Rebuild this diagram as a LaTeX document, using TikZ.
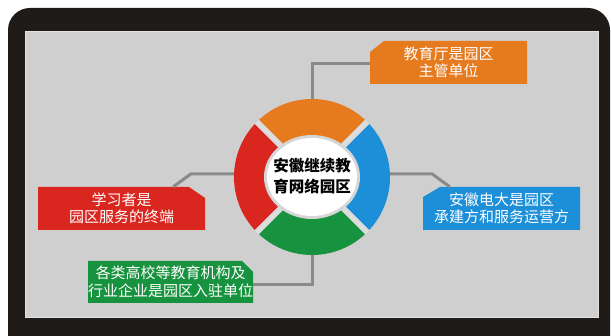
\documentclass[tikz,border=0pt]{standalone}
\usepackage{fontspec}
\setmainfont{Noto Sans CJK SC}
\definecolor{frameblk}{HTML}{1E1B19}
\definecolor{panelgray}{HTML}{CFCFCF}
\definecolor{paneledge}{HTML}{E2E2E2}
\definecolor{conngray}{HTML}{8A8A8A}
\definecolor{gapgray}{HTML}{DCDCDC}
\definecolor{rimgray}{HTML}{D6D6D6}
\definecolor{corange}{HTML}{E67A1E}
\definecolor{cblue}{HTML}{1C8FD8}
\definecolor{cgreen}{HTML}{17923E}
\definecolor{cred}{HTML}{D9261F}
\tikzset{
  conn/.style={draw=conngray, line width=3pt},
  boxtext/.style={rectangle, inner sep=0pt, align=center, text=white,
    font=\fontsize{15}{17.5}\selectfont},
}
\begin{document}
\begin{tikzpicture}[x=1pt,y=-1pt]
\useasboundingbox (0,0) rectangle (611,336);
\clip (0,0) rectangle (611,336);
\fill[white] (0,0) rectangle (611,336);
\fill[frameblk, rounded corners=22pt] (8,8) rectangle (610,380);
\fill[panelgray, draw=paneledge, line width=1pt] (25,32) rectangle (598,318);

% ring placeholder node
\node[circle, minimum size=156pt, inner sep=0pt] (ring) at (312,177) {};

% boxes
\fill[corange] (370,52) -- (384,41) -- (527,41) -- (527,84) -- (370,84) -- cycle;
\fill[cred] (38,187) -- (189,187) -- (205,198) -- (205,230) -- (38,230) -- cycle;
\fill[cblue] (423,197) -- (440,187) -- (580,187) -- (580,230) -- (423,230) -- cycle;
\fill[cgreen] (88,261) -- (242,261) -- (253,272) -- (253,303) -- (88,303) -- cycle;

\node[boxtext, minimum width=157pt, minimum height=43pt] (ob) at (448.5,62.5) {教育厅是园区\\主管单位};
\node[boxtext, minimum width=167pt, minimum height=43pt] (rb) at (121.5,208.5) {学习者是\\园区服务的终端};
\node[boxtext, minimum width=157pt, minimum height=43pt] (bb) at (501.5,208.5) {安徽电大是园区\\承建方和服务运营方};
\node[boxtext, minimum width=165pt, minimum height=42pt] (gb) at (170.5,282) {各类高校等教育机构及\\行业企业是园区入驻单位};

% connectors
\draw[conn] (ring.north) |- ([yshift=-1.5pt]ob.west);
\draw[conn] ([yshift=3pt]ring.east) -- ++(42,0) -- ([xshift=27pt]bb.north west);
\draw[conn] ([yshift=3pt]ring.west) -- ++(-43,0) -- ([xshift=-32pt]rb.north east);
\draw[conn] (ring.south) |- ([yshift=-3pt]gb.east);

% ring segments
\fill[corange] (312,177) -- +(-135:78) arc[start angle=-135, end angle=-45, radius=78] -- cycle;
\fill[cblue] (312,177) -- +(-45:78) arc[start angle=-45, end angle=45, radius=78] -- cycle;
\fill[cgreen] (312,177) -- +(45:78) arc[start angle=45, end angle=135, radius=78] -- cycle;
\fill[cred] (312,177) -- +(135:78) arc[start angle=135, end angle=225, radius=78] -- cycle;
\draw[gapgray, line width=6pt] (ring.45) -- (ring.225);
\draw[gapgray, line width=6pt] (ring.135) -- (ring.315);
\fill[rimgray] (312,177) ellipse [x radius=48, y radius=42];
\fill[white] (312,177) ellipse [x radius=45, y radius=39];
\node[align=center, inner sep=0pt, font=\fontsize{15.5}{21.5}\selectfont\bfseries] (title) at (312,176) {安徽继续教\\育网络园区};
\end{tikzpicture}
\end{document}
